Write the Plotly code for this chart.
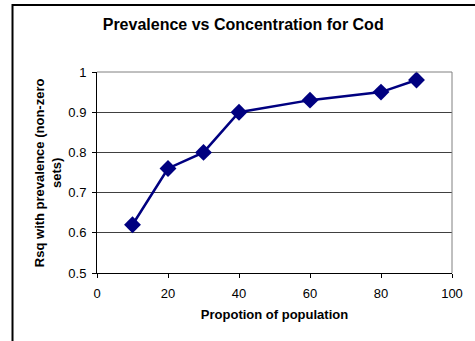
import plotly.graph_objects as go

# Data
proportion = [10, 20, 30, 40, 60, 80, 90]
rsq = [0.62, 0.76, 0.80, 0.90, 0.93, 0.95, 0.98]

x_ticks = [0, 20, 40, 60, 80, 100]
y_ticks = [0.5, 0.6, 0.7, 0.8, 0.9, 1.0]
y_tick_text = ["0.5", "0.6", "0.7", "0.8", "0.9", "1"]

font = "Liberation Sans, Arial, sans-serif"
navy = "#000080"

fig = go.Figure()
fig.add_trace(go.Scatter(
    x=proportion, y=rsq, mode="lines+markers",
    line={"color": navy, "width": 2.5},
    marker={"symbol": "diamond", "size": 13, "color": navy},
    cliponaxis=False, showlegend=False))

fig.update_layout(
    width=475, height=341,
    margin={"l": 97, "r": 17, "t": 72, "b": 68},
    paper_bgcolor="white", plot_bgcolor="white",
    font={"family": font, "color": "black", "size": 13},
    title={"text": "<b>Prevalence vs Concentration for Cod</b>",
           "x": 0.512, "xanchor": "center", "y": 0.927, "yanchor": "middle",
           "font": {"size": 16, "family": font}},
    xaxis={"range": [0, 100], "tickvals": x_ticks, "showgrid": False,
           "showline": True, "linecolor": "black", "linewidth": 1,
           "ticks": "outside", "ticklen": 4, "tickcolor": "black",
           "ticklabelstandoff": 4,
           "zeroline": False, "mirror": False,
           "title": {"text": "<b>Propotion of population</b>", "standoff": 10,
                     "font": {"size": 13}}},
    yaxis={"range": [0.5, 1.0], "tickvals": y_ticks, "ticktext": y_tick_text,
           "showgrid": True, "gridcolor": "#404040", "gridwidth": 1,
           "showline": True, "linecolor": "black", "linewidth": 1,
           "ticks": "outside", "ticklen": 4, "tickcolor": "black",
           "ticklabelstandoff": 3,
           "zeroline": False},
)

# y axis title as a rotated two-line annotation
fig.add_annotation(
    text="<b>Rsq with prevalence (non-zero<br>sets)</b>",
    xref="paper", yref="paper", x=-0.139, y=0.5, textangle=-90,
    showarrow=False, xanchor="center", yanchor="middle",
    font={"size": 13})

# gray frame on the top and right of the plot area
fig.add_shape(type="line", xref="paper", yref="paper",
              x0=0, x1=1, y0=1, y1=1, line={"color": "#808080", "width": 1})
fig.add_shape(type="line", xref="paper", yref="paper",
              x0=1, x1=1, y0=0, y1=1, line={"color": "#808080", "width": 1})

# outer chart border (runs off the right and bottom edges)
fig.add_shape(type="rect", xref="paper", yref="paper",
              x0=-0.238, x1=1.2, y0=-0.5, y1=1.333,
              line={"color": "black", "width": 2})

# drop the default page margin so the figure sits at the window's corner
fig.write_html("out.html", config={"displayModeBar": False},
               post_script="document.body.style.margin='0';")
